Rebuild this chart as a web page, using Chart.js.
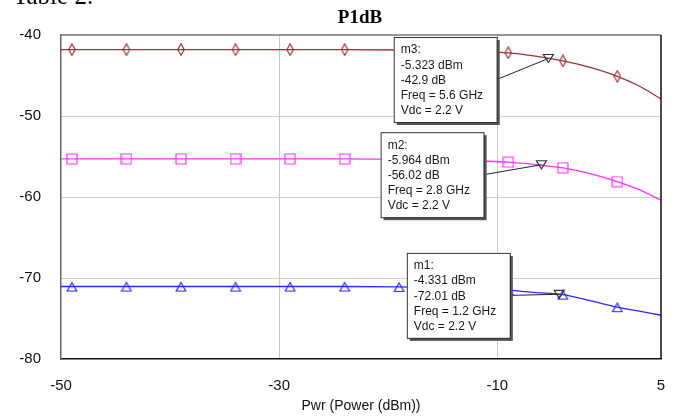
<!DOCTYPE html>
<html>
<head>
<meta charset="utf-8">
<script src="https://cdn.jsdelivr.net/npm/chart.js@4.4.0/dist/chart.umd.min.js"></script>
<style>
  body { margin: 0; background: #fff; }
  #wrap { width: 677px; height: 419px; position: relative; }
</style>
</head>
<body>
<div id="wrap"><canvas id="p1dbChart" width="677" height="419"></canvas></div>
<script>
// 데이터 (Pwr dBm 기준)
var pwr = [-50, -49, -44, -39, -34, -29, -24, -19, -14, -9, -6.5, -4, -1.5, 1, 3, 5];
var p1db56 = [-41.8, -41.8, -41.8, -41.8, -41.8, -41.8, -41.8, -41.85, -41.95, -42.2, -42.6, -43.2, -44.0, -45.1, -46.3, -47.9];
var p1db28 = [-55.3, -55.3, -55.3, -55.3, -55.3, -55.3, -55.3, -55.35, -55.45, -55.7, -56.0, -56.4, -57.1, -58.1, -59.1, -60.4];
var p1db12 = [-71.05, -71.05, -71.05, -71.05, -71.05, -71.05, -71.05, -71.1, -71.25, -71.5, -71.8, -72.05, -72.8, -73.6, -74.1, -74.6];
var showMark = [0, 1, 1, 1, 1, 1, 1, 1, 1, 1, 0, 1, 0, 1, 0, 0];

var xTicks = [-50, -30, -10, 5];
var yTicks = [-80, -70, -60, -50, -40];

// 마커 박스 (m1, m2, m3)
var mkName = ['m3', 'm2', 'm1'];
var mkPwr = [-5.323, -5.964, -4.331];
var mkVal = [-42.9, -56.02, -72.01];
var mkFreq = ['5.6 GHz', '2.8 GHz', '1.2 GHz'];
var mkVdc = ['2.2 V', '2.2 V', '2.2 V'];
var mkBoxX = [-19.5, -20.7, -18.3];   // 박스 왼쪽 위 (데이터 좌표)
var mkBoxY = [-40.25, -52.0, -66.9];

// 포인트 모양 만들기
function makeSym(type, color) {
    var c = document.createElement('canvas');
    var g = c.getContext('2d');
    if (type == 'diamond') {
        c.width = 8; c.height = 13;
    } else {
        c.width = 12; c.height = 12;
    }
    g.strokeStyle = color;
    g.lineWidth = 1.2;
    g.beginPath();
    if (type == 'diamond') {
        g.moveTo(4, 0.8); g.lineTo(7.2, 6.5); g.lineTo(4, 12.2); g.lineTo(0.8, 6.5); g.closePath();
    } else if (type == 'square') {
        g.rect(1, 1, 10, 10);
    } else {
        g.moveTo(6, 2); g.lineTo(10.8, 10.5); g.lineTo(1.2, 10.5); g.closePath();
    }
    g.stroke();
    return c;
}

function toPts(ys) {
    var arr = [];
    for (var i = 0; i < pwr.length; i++) arr.push({x: pwr[i], y: ys[i]});
    return arr;
}
function radii() {
    return showMark.map(function(m) { return m ? 5 : 0; });
}

var symRed = makeSym('diamond', '#a0303a');
var symMag = makeSym('square', '#ff33ff');
var symBlue = makeSym('triangle', '#2a2aff');

// 제목, 프레임, 마커 박스 그리기
var extraPlugin = {
    id: 'extra',
    afterDraw: function(chart) {
        var g = chart.ctx;
        var a = chart.chartArea;
        var xs = chart.scales.x, ys = chart.scales.y;
        g.save();
        // 프레임
        g.lineWidth = 1.5;
        g.strokeStyle = '#777';
        g.beginPath(); g.moveTo(a.left, a.top); g.lineTo(a.right, a.top); g.stroke();
        g.strokeStyle = '#111';
        g.beginPath(); g.moveTo(a.right, a.top); g.lineTo(a.right, a.bottom); g.stroke();

        // 위쪽 잘린 글자
        g.fillStyle = '#000';
        g.font = '25px "Liberation Serif"';
        g.textAlign = 'left';
        g.textBaseline = 'alphabetic';
        g.fillText('Table 2.', 13, 4);
        // 제목
        g.font = 'bold 19px "Liberation Serif"';
        g.textAlign = 'center';
        g.textBaseline = 'middle';
        g.fillText('P1dB', 360, 18);

        for (var i = 0; i < mkName.length; i++) {
            var bx = xs.getPixelForValue(mkBoxX[i]);
            var by = ys.getPixelForValue(mkBoxY[i]);
            var bw = 103, bh = 85;
            var px = xs.getPixelForValue(mkPwr[i]);
            var py = ys.getPixelForValue(mkVal[i]);
            // 연결선
            g.strokeStyle = '#222';
            g.lineWidth = 1;
            g.beginPath(); g.moveTo(bx + bw, by + bh / 2); g.lineTo(px, py); g.stroke();
            // 역삼각형 마커
            g.strokeStyle = '#333';
            g.lineWidth = 1.2;
            g.beginPath();
            g.moveTo(px - 5, py - 4); g.lineTo(px + 5, py - 4); g.lineTo(px, py + 4); g.closePath();
            g.stroke();
            // 박스 그림자
            g.fillStyle = '#555';
            g.fillRect(bx + 3, by + 3, bw, bh);
            g.fillStyle = '#fff';
            g.fillRect(bx, by, bw, bh);
            g.strokeStyle = '#333';
            g.lineWidth = 1;
            g.strokeRect(bx + 0.5, by + 0.5, bw, bh);
            // 텍스트
            var lines = [mkName[i] + ':', mkPwr[i] + ' dBm', mkVal[i] + ' dB', 'Freq = ' + mkFreq[i], 'Vdc = ' + mkVdc[i]];
            g.fillStyle = '#1a1a1a';
            g.font = '12px "Liberation Sans"';
            g.textAlign = 'left';
            g.textBaseline = 'middle';
            for (var k = 0; k < lines.length; k++) {
                g.fillText(lines[k], bx + 7, by + 13 + k * 15.2);
            }
        }
        g.restore();
    }
};

const ctx = document.getElementById('p1dbChart').getContext('2d');
const p1dbChart = new Chart(ctx, {
    type: 'line',
    data: {
        datasets: [{
            label: 'Freq = 5.6 GHz',
            data: toPts(p1db56),
            borderColor: '#a0303a',
            borderWidth: 1.3,
            pointStyle: symRed,
            pointRadius: radii(),
            cubicInterpolationMode: 'monotone'
        }, {
            label: 'Freq = 2.8 GHz',
            data: toPts(p1db28),
            borderColor: '#ff33ff',
            borderWidth: 1.3,
            pointStyle: symMag,
            pointRadius: radii(),
            cubicInterpolationMode: 'monotone'
        }, {
            label: 'Freq = 1.2 GHz',
            data: toPts(p1db12),
            borderColor: '#2a2aff',
            borderWidth: 1.3,
            pointStyle: symBlue,
            pointRadius: radii(),
            cubicInterpolationMode: 'monotone'
        }]
    },
    options: {
        responsive: false,
        animation: false,
        layout: { padding: { top: 35, right: 16, left: 0, bottom: 0 } },
        plugins: {
            legend: { display: false },
            tooltip: { enabled: false }
        },
        scales: {
            x: {
                type: 'linear',
                min: -50,
                max: 5,
                afterBuildTicks: function(axis) {
                    axis.ticks = xTicks.map(function(v) { return {value: v}; });
                },
                afterFit: function(axis) {
                    axis.height = 60;
                    axis.paddingLeft = 0;
                    axis.paddingRight = 0;
                },
                grid: {
                    drawTicks: false,
                    color: function(c) {
                        return (c.tick && (c.tick.value == -30 || c.tick.value == -10)) ? '#c8c8c8' : 'rgba(0,0,0,0)';
                    }
                },
                border: { color: '#111', width: 1.5 },
                ticks: {
                    padding: 18,
                    color: '#111',
                    font: { family: 'Liberation Sans', size: 15 },
                    maxRotation: 0
                },
                title: {
                    display: true,
                    text: 'Pwr (Power (dBm))',
                    color: '#111',
                    font: { family: 'Liberation Sans', size: 14 },
                    padding: { top: 3 }
                }
            },
            y: {
                min: -80,
                max: -40,
                afterBuildTicks: function(axis) {
                    axis.ticks = yTicks.map(function(v) { return {value: v}; });
                },
                afterFit: function(axis) {
                    axis.width = 61;
                    axis.paddingTop = 0;
                    axis.paddingBottom = 0;
                },
                grid: {
                    drawTicks: false,
                    color: function(c) {
                        var v = c.tick ? c.tick.value : null;
                        return (v == -50 || v == -60 || v == -70) ? '#cccccc' : 'rgba(0,0,0,0)';
                    }
                },
                border: { color: '#666', width: 1.5 },
                ticks: {
                    padding: 20,
                    color: '#111',
                    font: { family: 'Liberation Sans', size: 15 }
                }
            }
        }
    },
    plugins: [extraPlugin]
});
</script>
</body>
</html>
